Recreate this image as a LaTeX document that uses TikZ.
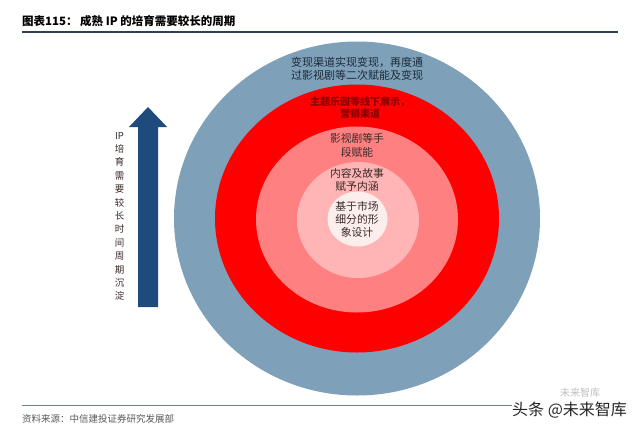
\documentclass[tikz,border=0pt]{standalone}
\usepackage{fontspec}
\setmainfont{Noto Sans CJK SC}
\definecolor{ringblue}{HTML}{7FA0B9}
\definecolor{ringred}{HTML}{FF0000}
\definecolor{ringsalmon}{HTML}{FF8080}
\definecolor{ringpink}{HTML}{FFB5B5}
\definecolor{ringcore}{HTML}{FDEEEE}
\definecolor{arrowblue}{HTML}{1E4A7E}
\definecolor{bluetext}{HTML}{1C2A3A}
\definecolor{redtext}{HTML}{8A0000}
\definecolor{darktext}{HTML}{3A2A2A}
\definecolor{titleline}{HTML}{2F4050}
\definecolor{footline}{HTML}{6F8585}
\tikzset{
  ringtext/.style={align=center, inner sep=0pt, font=\fontsize{10.8}{13}\selectfont, text=darktext},
}
\begin{document}
\begin{tikzpicture}[x=1pt, y=-1pt]
\useasboundingbox (0,0) rectangle (640,432);
\fill[white] (0,0) rectangle (640,432);
% title
\node[anchor=west, inner sep=0pt, font=\fontsize{11.5}{13}\selectfont\bfseries] (tlabel) at (22,21) {图表115：};
\node[anchor=west, inner sep=0pt, font=\fontsize{11.5}{13}\selectfont\bfseries] (ttext) at (80,21) {成熟 IP 的培育需要较长的周期};
\draw[titleline, line width=1.3pt] (22,32) -- (618,32);
% rings
\fill[ringblue] (357,218.5) ellipse [x radius=183pt, y radius=177pt];
\fill[ringred] (357,218.5) ellipse [x radius=142pt, y radius=134pt];
\fill[ringsalmon] (357,219.5) ellipse [x radius=101pt, y radius=93pt];
\fill[ringpink] (358,220) ellipse [x radius=61pt, y radius=58pt];
\fill[ringcore] (357.5,219) ellipse [x radius=30pt, y radius=27.5pt];
% ring texts
\node[ringtext, text=bluetext, font=\fontsize{11}{12.6}\selectfont] (t1) at (357,69) {变现渠道实现变现，再度通\\过影视剧等二次赋能及变现};
\node[ringtext, text=redtext, font=\fontsize{10}{12}\selectfont\bfseries] (t2) at (360,108) {主题乐园等线下展示，\\营销渠道};
\node[ringtext, font=\fontsize{10.8}{14}\selectfont] (t3) at (357,145) {影视剧等手\\段赋能};
\node[ringtext] (t4) at (357,179.5) {内容及故事\\赋予内涵};
\node[ringtext] (t5) at (357,219) {基于市场\\细分的形\\象设计};
% arrow
\fill[arrowblue] (138,307) -- (138,127) -- (129,127) -- (148,107) -- (167,127) -- (158,127) -- (158,307) -- cycle;
\node[align=center, inner sep=0pt, text=darktext, font=\fontsize{9.5}{13.4}\selectfont] (vt) at (119.5,216.5) {IP\\培\\育\\需\\要\\较\\长\\时\\间\\周\\期\\沉\\淀};
% footer
\draw[footline, line width=0.8pt] (22,405) -- (512,405);
\node[anchor=west, inner sep=0pt, text=black!65, font=\fontsize{9.5}{11}\selectfont] (src) at (22,419) {资料来源：中信建投证券研究发展部};
\node[anchor=west, inner sep=0pt, text=black!25, font=\fontsize{10}{11}\selectfont] (wm2) at (560,393) {未来智库};
\node[anchor=west, inner sep=1pt, text=black!85, font=\fontsize{16}{18}\selectfont] (wm) at (511,410) {头条 @未来智库};
\end{tikzpicture}
\end{document}
